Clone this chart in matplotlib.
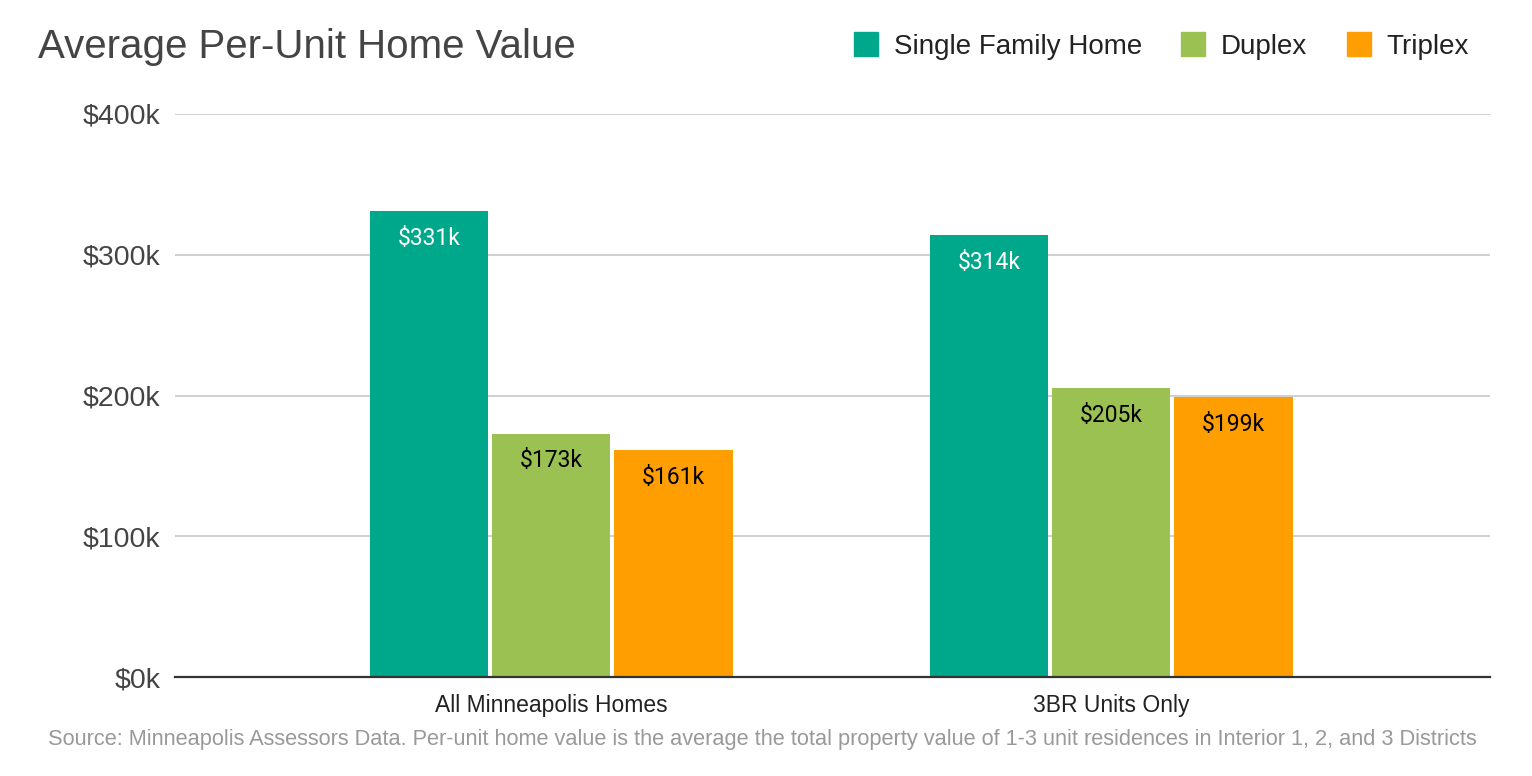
import matplotlib
matplotlib.use('Agg')
import matplotlib.pyplot as plt
import numpy as np
from matplotlib.lines import Line2D

# --- Data ---
categories = ["All Minneapolis Homes", "3BR Units Only"]
series_names = ["Single Family Home", "Duplex", "Triplex"]
single_family = [331, 314]
duplex = [173, 205]
triplex = [161, 199]
y_ticks = [0, 100, 200, 300, 400]

colors = ['#00A88B', '#9BC153', '#FF9E00']
label_colors = ['white', 'black', 'black']

fig = plt.figure(figsize=(15.32, 7.76), dpi=100)
ax = fig.add_axes([175 / 1532, 1 - 677 / 776, (1490 - 175) / 1532, (677 - 114) / 776])

x = np.arange(len(categories))
width = 0.211
step = 0.218
for i, vals in enumerate([single_family, duplex, triplex]):
    pos = x + (i - 1) * step
    bars = ax.bar(pos, vals, width, color=colors[i], zorder=3)
    for b, v in zip(bars, vals):
        # label sits ~26px below the bar top
        ax.text(b.get_x() + b.get_width() / 2, v - 19.5, f"${v}k",
                ha='center', va='center', fontsize=16.5, family='Roboto',
                color=label_colors[i], zorder=4)

ax.set_xlim(-0.672, 1.676)
ax.set_ylim(0, 400)
ax.set_yticks(y_ticks)
ax.set_yticklabels([f"${t}k" for t in y_ticks], family='Liberation Sans',
                   fontsize=20.5, color='#444444')
ax.set_xticks(x)
ax.set_xticklabels(categories, family='Liberation Sans', fontsize=16.5, color='#222222')
ax.tick_params(axis='both', length=0)
ax.tick_params(axis='y', pad=10.5)
ax.tick_params(axis='x', pad=12)
ax.grid(axis='y', color='#CCCCCC', linewidth=1.3, zorder=0)
for s in ['top', 'right', 'left']:
    ax.spines[s].set_visible(False)
ax.spines['bottom'].set_color('#333333')
ax.spines['bottom'].set_linewidth(1.6)
ax.spines['bottom'].set_zorder(5)

# --- Title ---
fig.text(38 / 1532, 1 - 47 / 776, "Average Per-Unit Home Value", family='Liberation Sans',
         fontsize=29, color='#444444', va='center', ha='left')

# --- Legend ---
handles = [Line2D([], [], marker='s', linestyle='none', markersize=17,
                  markerfacecolor=c, markeredgecolor=c) for c in colors]
fig.legend(handles, series_names, loc='center right', bbox_to_anchor=(1480 / 1532, 1 - 47 / 776),
           ncol=3, frameon=False, prop={'family': 'Liberation Sans', 'size': 20},
           handletextpad=0.5, columnspacing=1.35, handlelength=1.0, borderaxespad=0,
           labelcolor='#222222')

# --- Source ---
fig.text(1477 / 1532, 1 - 740 / 776,
         "Source: Minneapolis Assessors Data. Per-unit home value is the average the total property value "
         "of 1-3 unit residences in Interior 1, 2, and 3 Districts",
         family='Liberation Sans', fontsize=15.7, color='#999999', ha='right', va='center')

fig.savefig('out.png', dpi=100)
